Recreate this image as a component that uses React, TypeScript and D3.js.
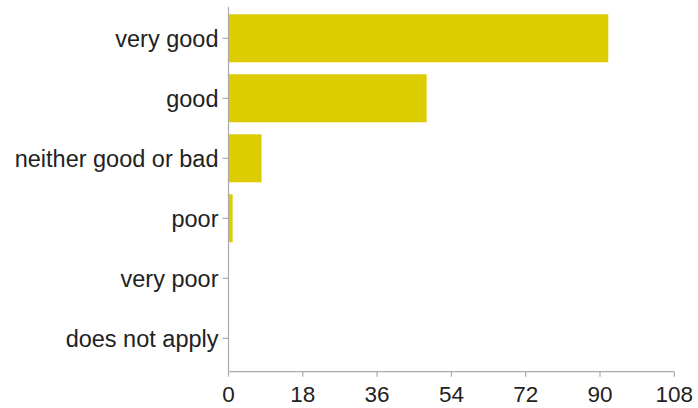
import React from "react";
import * as d3 from "d3";

const categories = ["very good", "good", "neither good or bad", "poor", "very poor", "does not apply"];
const values = [92, 48, 8, 1, 0, 0];
const xTicks = [0, 18, 36, 54, 72, 90, 108];

const W = 698;
const H = 408;
const x0 = 228.5;
const x1 = 674.3;
const yTop = 7;
const yAxis = 371.7;

export default function App() {
  const x = d3.scaleLinear().domain([0, 108]).range([x0, x1]);
  const y = d3
    .scaleBand<string>()
    .domain(categories)
    .range([8.3, 368.3])
    .paddingInner(0.2)
    .paddingOuter(0.1);
  const axisColor = "#aaaaaa";
  const textColor = "#222222";
  const font = "'Liberation Sans', Arial, Helvetica, sans-serif";
  return (
    <svg
      width={W}
      height={H}
      style={{ position: "absolute", left: 0, top: 0, background: "#fff" }}
      fontFamily={font}
    >
      {categories.map((c, i) => (
        <rect
          key={c}
          x={x(0)}
          y={y(c)!}
          width={Math.max(0, x(values[i]) - x(0))}
          height={y.bandwidth()}
          fill="#ddcc00"
        />
      ))}
      <line x1={x0} x2={x0} y1={yTop} y2={yAxis} stroke={axisColor} strokeWidth={1.2} />
      <line x1={x0} x2={x1} y1={yAxis} y2={yAxis} stroke={axisColor} strokeWidth={1.2} />
      {categories.map((c) => {
        const cy = y(c)! + y.bandwidth() / 2;
        return (
          <g key={c}>
            <line x1={x0 - 6} x2={x0} y1={cy} y2={cy} stroke={axisColor} strokeWidth={1.2} />
            <text
              x={x0 - 10}
              y={cy}
              dy="0.35em"
              textAnchor="end"
              fontSize={23.5}
              fill={textColor}
            >
              {c}
            </text>
          </g>
        );
      })}
      {xTicks.map((t) => (
        <g key={t}>
          <line x1={x(t)} x2={x(t)} y1={yAxis} y2={yAxis + 5} stroke={axisColor} strokeWidth={1.2} />
          <text x={x(t)} y={401.5} textAnchor="middle" fontSize={22.5} fill={textColor}>
            {t}
          </text>
        </g>
      ))}
    </svg>
  );
}
